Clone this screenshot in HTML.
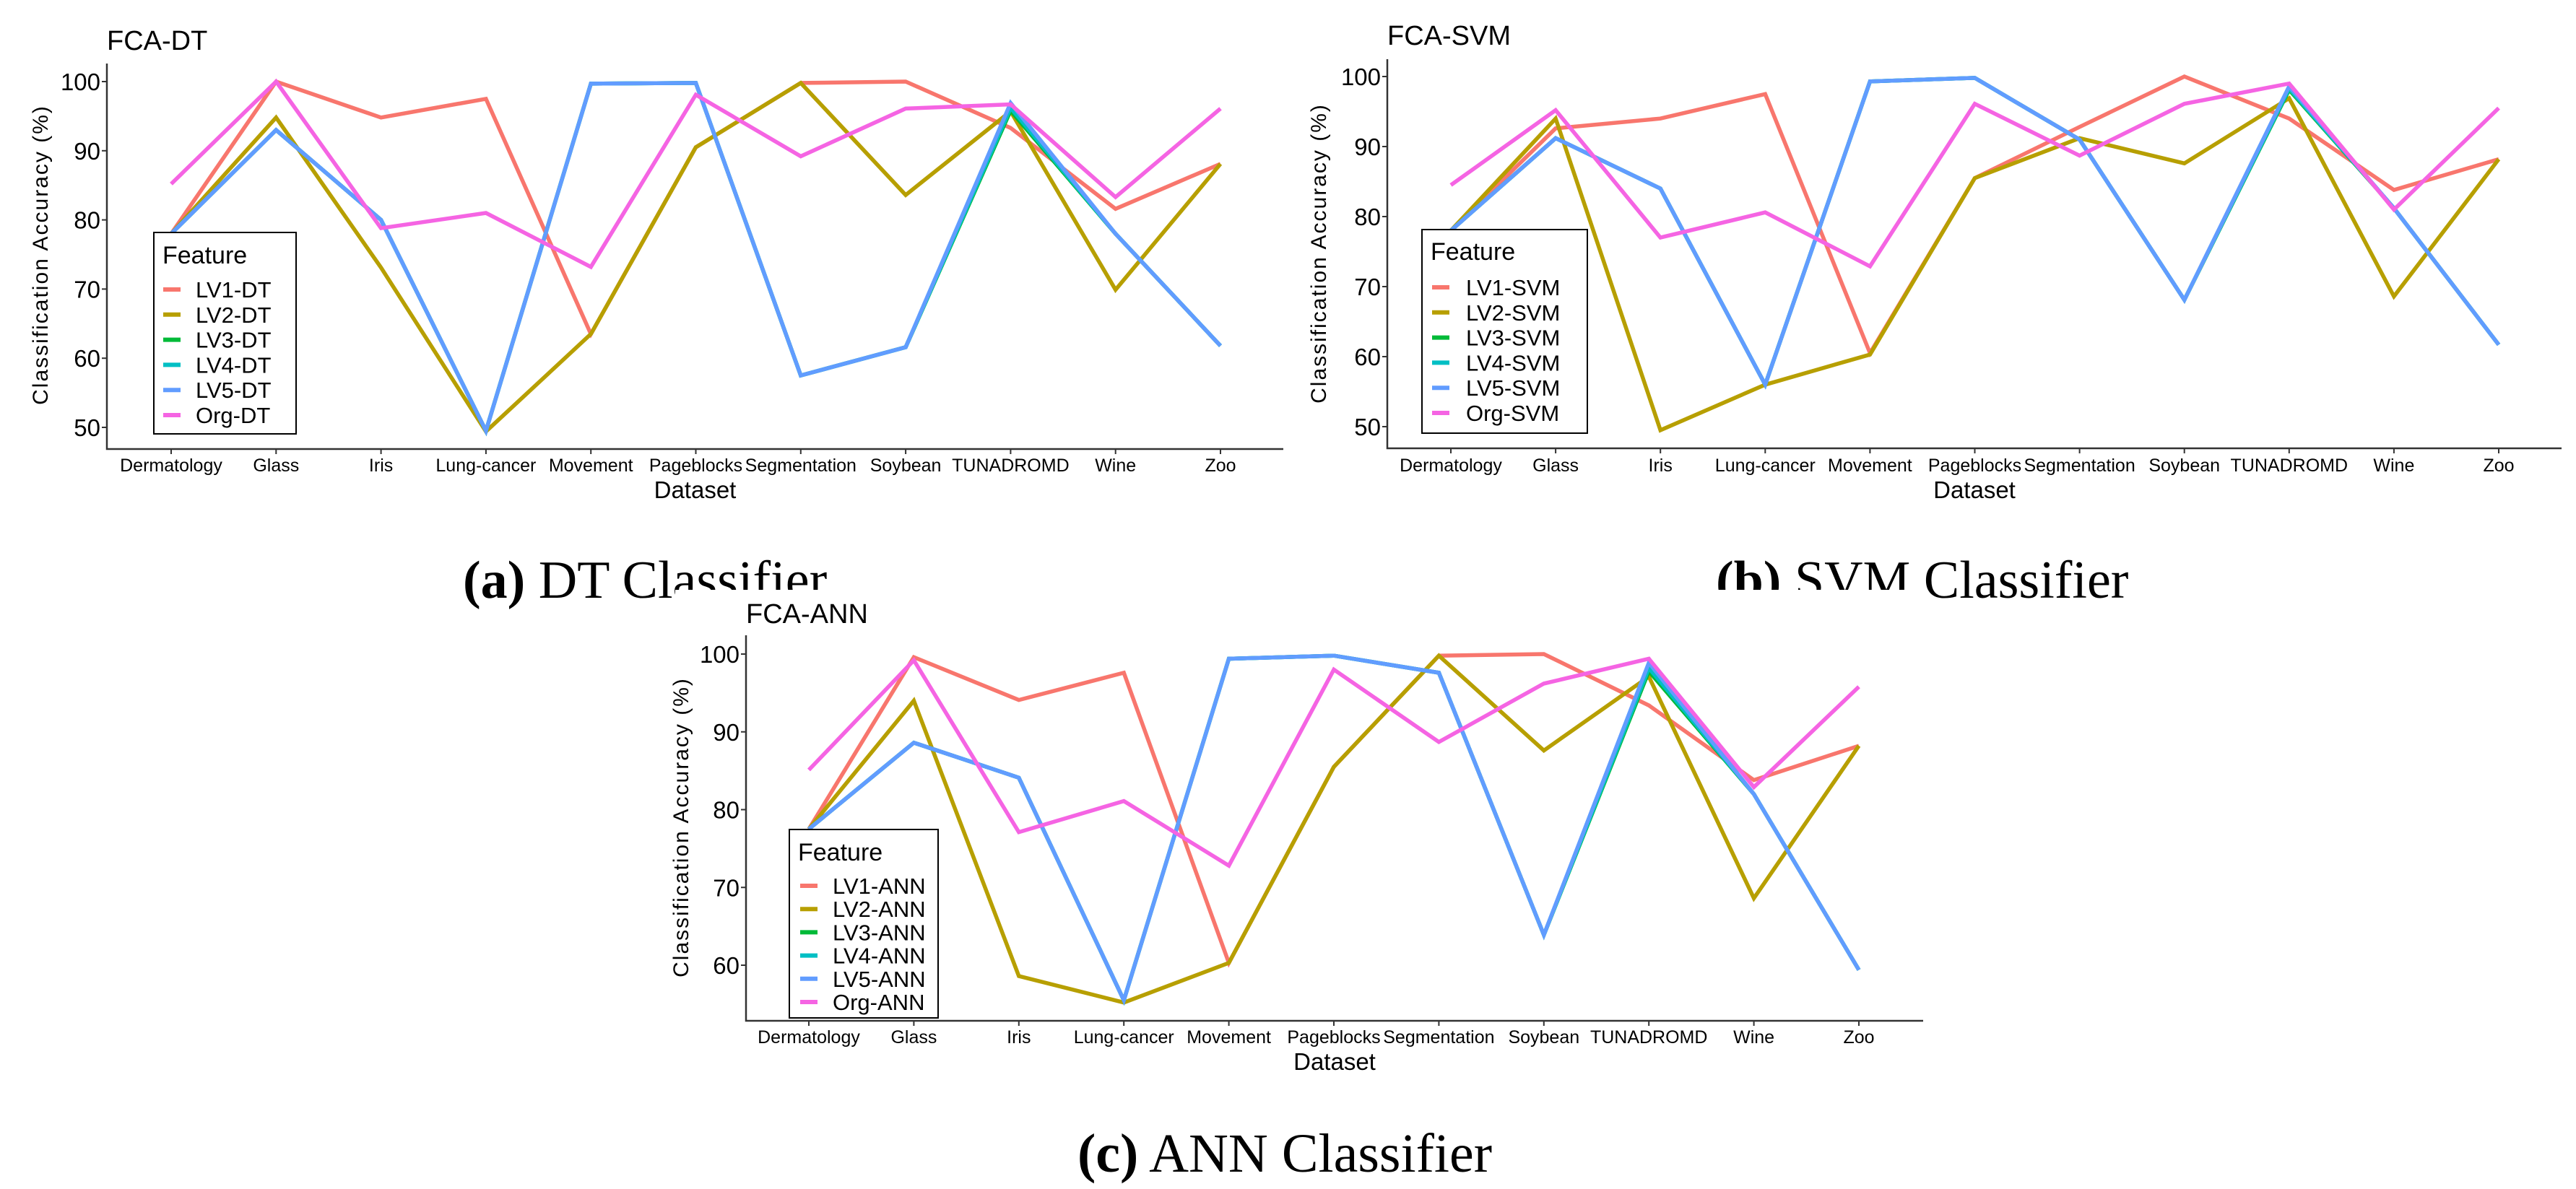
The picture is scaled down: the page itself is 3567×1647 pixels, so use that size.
<!DOCTYPE html>
<html><head><meta charset="utf-8"><style>
html,body{margin:0;padding:0;background:#fff}
svg{display:block}
text{font-family:"Liberation Sans",sans-serif;fill:#000}
</style></head><body>
<svg id="root" width="3567" height="1647" viewBox="0 0 3567 1647">
<rect width="3567" height="1647" fill="#fff"/>
<text x="641" y="828" font-family="Liberation Serif" font-size="74" style="font-family:'Liberation Serif',serif"><tspan font-weight="bold">(a)</tspan> DT Classifier</text>
<text x="2376" y="828" font-family="Liberation Serif" font-size="74" style="font-family:'Liberation Serif',serif"><tspan font-weight="bold">(b)</tspan> SVM Classifier</text>
<rect x="935" y="817" width="1725" height="690" fill="#fff"/>
<text x="1492" y="1623" font-size="76" style="font-family:'Liberation Serif',serif"><tspan font-weight="bold">(c)</tspan> ANN Classifier</text>
</svg>
<script>
const categories=["Dermatology","Glass","Iris","Lung-cancer","Movement","Pageblocks","Segmentation","Soybean","TUNADROMD","Wine","Zoo"];
const colors=["#F8766D","#B79F00","#00BA38","#00BFC4","#619CFF","#F564E3"];
// Panel A (DT)
const dtLV1=[78,100,94.8,97.5,63.5,90.5,99.8,100,93.3,81.6,88.1];
const dtLV2=[78,94.8,73.1,49.4,63.5,90.5,99.8,83.6,95.7,69.9,88.1];
const dtLV3=[78,93,80,49.5,99.7,99.8,57.5,61.6,95.8,78,61.8];
const dtLV4=[78,93,80,49.5,99.7,99.8,57.5,61.6,96.2,78,61.8];
const dtLV5=[78,93,80,49.5,99.7,99.8,57.5,61.6,96.9,78,61.8];
const dtOrg=[85.2,100,78.8,81,73.2,98.1,89.2,96.1,96.7,83.3,96.1];
const dtTicks=[50,60,70,80,90,100];
// Panel B (SVM)
const svmLV1=[78,92.6,94,97.5,60.5,85.5,92.8,100,94,83.8,88.2];
const svmLV2=[78,94,49.5,56,60.3,85.5,91.2,87.6,96.9,68.6,88.2];
const svmLV3=[78,91.2,84,56,99.3,99.8,91,68.1,98.1,81.2,61.7];
const svmLV4=[78,91.2,84,56,99.3,99.8,91,68.1,98.3,81.2,61.7];
const svmLV5=[78,91.2,84,56,99.3,99.8,91,68.1,98.6,81.2,61.7];
const svmOrg=[84.5,95.2,77,80.6,72.9,96.1,88.7,96.1,99,81,95.5];
const svmTicks=[50,60,70,80,90,100];
// Panel C (ANN)
const annLV1=[77.5,99.6,94.1,97.6,60.3,85.5,99.8,100,93.4,83.8,88.2];
const annLV2=[77.5,94,58.6,55.2,60.3,85.5,99.8,87.6,97.1,68.6,88.2];
const annLV3=[77.5,88.6,84.1,55.5,99.4,99.8,97.6,63.9,97.8,82,59.4];
const annLV4=[77.5,88.6,84.1,55.5,99.4,99.8,97.6,63.9,98.2,82,59.4];
const annLV5=[77.5,88.6,84.1,55.5,99.4,99.8,97.6,63.9,98.9,82,59.4];
const annOrg=[85.1,99.2,77.1,81.1,72.8,98,88.7,96.2,99.4,82.9,95.8];
const annTicks=[60,70,80,90,100];

const NS="http://www.w3.org/2000/svg";
const root=document.getElementById('root');
function mk(tag,attrs,parent){const e=document.createElementNS(NS,tag);for(const k in attrs)e.setAttribute(k,attrs[k]);(parent||root).appendChild(e);return e;}

function panel(p){
  const g=mk('g',{});
  
  
  const xs=i=>p.x0+(p.x1-p.x0)*i/(categories.length-1);
  const ys=v=>p.y100+(100-v)*p.per10/10;
  const t=mk('text',{x:p.left,y:p.titleY,'font-size':38},g);t.textContent=p.title;
  
  
  const ax=mk('path',{d:`M${p.left},${p.top}V${p.bottom}H${p.right}`,stroke:'#333',fill:'none','stroke-width':2.5},g);
  
  
  p.ticks.forEach(v=>{
    mk('line',{x1:p.left-7,x2:p.left,y1:ys(v),y2:ys(v),stroke:'#333','stroke-width':2},g);
    const tl=mk('text',{x:p.left-9,y:ys(v)+12,'font-size':33,'text-anchor':'end'},g);tl.textContent=v;
    
    
  });
  categories.forEach((c,i)=>{
    mk('line',{x1:xs(i),x2:xs(i),y1:p.bottom,y2:p.bottom+7,stroke:'#333','stroke-width':2},g);
    const tl=mk('text',{x:xs(i),y:p.tickY,'font-size':25,'text-anchor':'middle'},g);tl.textContent=c;
    
    
  });
  const xt=mk('text',{x:(p.left+p.right)/2,y:p.dsY,'font-size':33,'text-anchor':'middle'},g);xt.textContent='Dataset';
  
  
  const yt=mk('text',{x:0,y:0,'font-size':30,'text-anchor':'middle','letter-spacing':'2',transform:`translate(${p.ytX},${p.ytY}) rotate(-90)`},g);yt.textContent='Classification Accuracy (%)';
  
  
  p.series.forEach((s,k)=>{
    const d=s.map((v,i)=>(i?'L':'M')+xs(i).toFixed(1)+','+ys(v).toFixed(1)).join('');
    const pl=mk('path',{d:d,stroke:colors[k],fill:'none','stroke-width':5.5,'stroke-linejoin':'miter','stroke-miterlimit':3},g);
    
    
  });
  const L=p.leg;
  const lb=mk('rect',{x:L.x,y:L.y,width:L.w,height:L.h,fill:'#fff',stroke:'#000','stroke-width':2},g);
  
  
  const lt=mk('text',{x:L.x+12,y:L.featY+12,'font-size':34},g);lt.textContent='Feature';
  
  
  p.names.forEach((n,k)=>{
    const yy=L.e0+k*L.step;
    mk('line',{x1:L.kx,x2:L.kx+24,y1:yy,y2:yy,stroke:colors[k],'stroke-width':6},g);
    const et=mk('text',{x:L.tx,y:yy+11,'font-size':31},g);et.textContent=n;
    
    
  });
}
panel({id:'dt',title:'FCA-DT',titleY:69,left:148,right:1777,top:88,bottom:622,x0:237,x1:1690,y100:113,per10:95.8,ticks:dtTicks,tickY:653,dsY:690,ytX:66,ytY:353,
  series:[dtLV1,dtLV2,dtLV3,dtLV4,dtLV5,dtOrg],names:['LV1-DT','LV2-DT','LV3-DT','LV4-DT','LV5-DT','Org-DT'],
  leg:{x:213,y:322,w:197,h:279,featY:353,e0:401,step:34.8,kx:226,tx:271}});
panel({id:'svm',title:'FCA-SVM',titleY:62,left:1921,right:3547,top:82,bottom:621,x0:2009,x1:3460,y100:106,per10:97,ticks:svmTicks,tickY:653,dsY:690,ytX:1836,ytY:351,
  series:[svmLV1,svmLV2,svmLV3,svmLV4,svmLV5,svmOrg],names:['LV1-SVM','LV2-SVM','LV3-SVM','LV4-SVM','LV5-SVM','Org-SVM'],
  leg:{x:1969,y:318,w:229,h:282,featY:348,e0:398,step:34.8,kx:1983,tx:2030}});
panel({id:'ann',title:'FCA-ANN',titleY:863,left:1033,right:2663,top:880,bottom:1414,x0:1120,x1:2574,y100:906,per10:107.75,ticks:annTicks,tickY:1445,dsY:1482,ytX:953,ytY:1146,
  series:[annLV1,annLV2,annLV3,annLV4,annLV5,annOrg],names:['LV1-ANN','LV2-ANN','LV3-ANN','LV4-ANN','LV5-ANN','Org-ANN'],
  leg:{x:1093,y:1149,w:206,h:261,featY:1180,e0:1227,step:32.2,kx:1108,tx:1153}});
</script>
</body></html>
